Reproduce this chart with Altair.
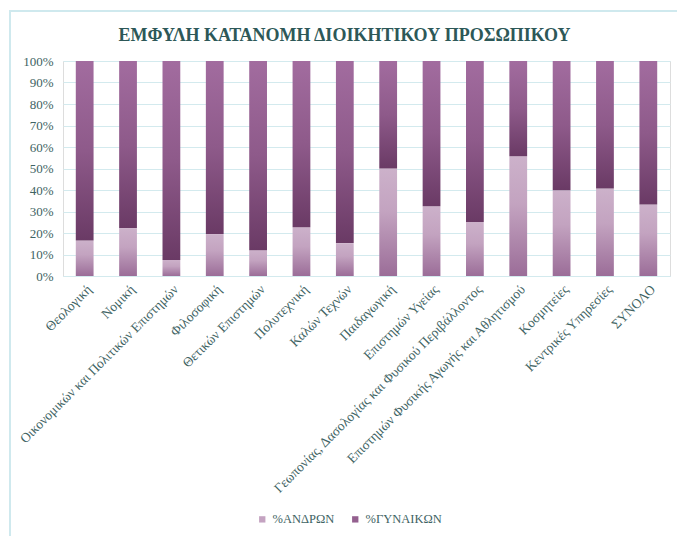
import altair as alt
import pandas as pd

categories = [
    "Θεολογική", "Νομική", "Οικονομικών και Πολιτικών Επιστημών", "Φιλοσοφική",
    "Θετικών Επιστημών", "Πολυτεχνική", "Καλών Τεχνών", "Παιδαγωγική",
    "Επιστημών Υγείας", "Γεωπονίας, Δασολογίας και Φυσικού Περιβάλλοντος",
    "Επιστημών Φυσικής Αγωγής και Αθλητισμού", "Κοσμητείες",
    "Κεντρικές Υπηρεσίες", "ΣΥΝΟΛΟ",
]
men_pct = [16.5, 22.3, 7.5, 19.5, 12.0, 22.7, 15.3, 50.0, 32.4, 25.1, 55.7, 39.9, 40.7, 33.3]
women_pct = [83.5, 77.7, 92.5, 80.5, 88.0, 77.3, 84.7, 50.0, 67.6, 74.9, 44.3, 60.1, 59.3, 66.7]
series_names = ["%ΑΝΔΡΩΝ", "%ΓΥΝΑΙΚΩΝ"]
y_ticks = [0, 0.1, 0.2, 0.3, 0.4, 0.5, 0.6, 0.7, 0.8, 0.9, 1.0]

df = pd.DataFrame({
    "cat": categories,
    "men": [v / 100 for v in men_pct],
    "women": [v / 100 for v in women_pct],
})
df["top"] = df["men"] + df["women"]

legend_df = pd.DataFrame({
    "cat": [categories[0], categories[0]],
    "series": series_names,
    "zero": [0, 0],
})

FONT = "Liberation Serif"
TXT = "#3e6363"
GRID = "#d3eaee"

x_enc = alt.X(
    "cat:N", sort=categories, title=None,
    scale=alt.Scale(paddingInner=0.59, paddingOuter=0.295),
    axis=alt.Axis(labelAngle=-45, labelAlign="right", labelBaseline="top",
                  labelPadding=6, ticks=False, domainColor=GRID,
                  labelFont=FONT, labelFontSize=13.5, labelColor=TXT,
                  labelLimit=400, labelOverlap=False),
)
y_scale = alt.Scale(domain=[0, 1], nice=False)
y_axis = alt.Axis(format=".0%", values=y_ticks, ticks=False,
                  domain=False, gridColor=GRID, labelFont=FONT,
                  labelFontSize=13, labelColor=TXT, labelPadding=10,
                  labelOverlap=False)

men_grad = alt.Gradient(
    gradient="linear", x1=0, y1=0, x2=0, y2=1,
    stops=[alt.GradientStop(color="#ccb1ca", offset=0),
           alt.GradientStop(color="#c3a3c0", offset=0.4),
           alt.GradientStop(color="#9b6d98", offset=1)],
)
women_grad = alt.Gradient(
    gradient="linear", x1=0, y1=0, x2=0, y2=1,
    stops=[alt.GradientStop(color="#a26c9f", offset=0),
           alt.GradientStop(color="#8e5a8a", offset=0.5),
           alt.GradientStop(color="#6a3a65", offset=1)],
)

frame = alt.Chart(pd.DataFrame({"a": [0]})).mark_rect(
    fill=None, stroke="#cfe9ee", strokeWidth=2
).encode(
    x=alt.value(-53), x2=alt.value(720), y=alt.value(-50), y2=alt.value(600)
)

base = alt.Chart(df)

men_bars = base.mark_bar(fill=men_grad).encode(
    x=x_enc,
    y=alt.Y("men:Q", scale=y_scale, title=None, axis=y_axis),
    y2=alt.datum(0),
)
women_bars = base.mark_bar(fill=women_grad).encode(
    x=x_enc,
    y=alt.Y("top:Q", scale=y_scale, title=None, axis=y_axis),
    y2="men:Q",
)

legend_layer = alt.Chart(legend_df).mark_bar(strokeWidth=0).encode(
    x=x_enc,
    y=alt.Y("zero:Q", scale=y_scale, title=None, axis=y_axis),
    y2="zero:Q",
    color=alt.Color(
        "series:N", sort=series_names,
        scale=alt.Scale(domain=series_names, range=["#c4a3c1", "#94608f"]),
        legend=alt.Legend(
            title=None, orient="none", legendX=193, legendY=452,
            direction="horizontal", symbolType="square", symbolSize=40,
            labelFont=FONT, labelFontSize=12.5, labelColor=TXT,
            columnPadding=14, symbolStrokeWidth=0,
        ),
    ),
)

chart = alt.layer(frame, men_bars, women_bars, legend_layer).properties(
    width=607, height=215,
    padding={"left": 63, "top": 61, "right": 7, "bottom": 260},
    autosize=alt.AutoSizeParams(type="none"),
    title=alt.TitleParams(
        "ΕΜΦΥΛΗ ΚΑΤΑΝΟΜΗ ΔΙΟΙΚΗΤΙΚΟΥ ΠΡΟΣΩΠΙΚΟΥ",
        font=FONT, fontSize=18, fontWeight="bold", color="#2d5858",
        anchor="middle", offset=-35, dx=-22,
    ),
).configure_view(stroke=None).configure_axis(
    labelFont=FONT, labelColor=TXT
).configure(background="white")

chart.save("out.html", embed_options={"renderer": "svg", "actions": False})
